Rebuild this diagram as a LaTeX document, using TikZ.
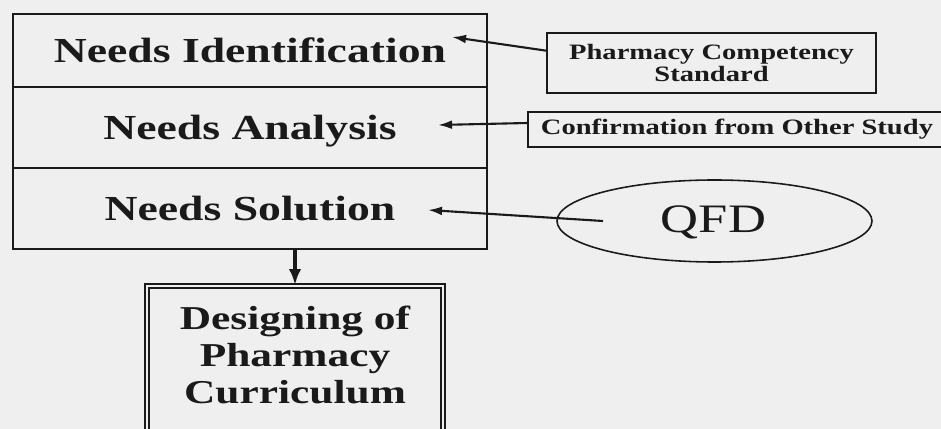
\documentclass[tikz,border=0pt]{standalone}
\usepackage{fontspec}
\setmainfont{Liberation Serif}[FakeStretch=1.3]
\usepackage{xcolor}
\usetikzlibrary{arrows.meta,calc,shapes.geometric}
\definecolor{paper-bg}{HTML}{EFEFEF}
\definecolor{ink}{HTML}{1A1A1A}

\begin{document}
\begin{tikzpicture}[every node/.style={text=ink},
    stage/.style={draw=ink, line width=0.9pt, minimum width=9.48cm, minimum height=1.62cm,
      font=\fontsize{20}{22}\selectfont\bfseries, text height=13.5pt, text depth=0pt},
    source/.style={draw=ink, line width=0.9pt, font=\fontsize{12.5}{13}\selectfont\bfseries,
      align=center},
    feed/.style={-{Latex[length=8pt,width=5pt]}, line width=1.2pt, color=ink}]
  \useasboundingbox (0, 0) rectangle (18.82, -8.58);
  \clip (0, 0) rectangle (18.82, -8.58);
  \fill[paper-bg] (0, 0) rectangle (18.82, -8.58);

  % needs stack
  \node[stage, minimum height=1.46cm] (ident) at (5.0, -1.01) {Needs Identification};
  \node[stage] (analysis) at (5.0, -2.55) {Needs Analysis};
  \node[stage] (solution) at (5.0, -4.17) {Needs Solution};
  \coordinate (identin) at (9.04, -0.74);
  \coordinate (analysisin) at (8.76, -2.50);
  \coordinate (solutionin) at (8.56, -4.20);

  % inputs on the right
  \node[source, minimum width=6.58cm, minimum height=1.2cm] (standard) at (14.23, -1.26)
    {Pharmacy Competency\\Standard};
  \node[source, minimum width=8.36cm, minimum height=0.7cm] (confirm) at (14.74, -2.59)
    {Confirmation from Other Study};
  \node[draw=ink, ellipse, line width=0.9pt, minimum width=6.3cm, minimum height=1.64cm,
    inner sep=0pt] (qfd) at (14.29, -4.42) {};
  \node[font=\fontsize{23}{25}\selectfont] (qfdtext) at (14.27, -4.44) {QFD};

  \draw[feed] ($(standard.north west)!0.3!(standard.south west)$) -- (identin);
  \draw[feed] ([yshift=0.13cm]confirm.west) -- (analysisin);
  \draw[feed] ([xshift=-2.23cm]qfd.center) -- (solutionin);

  % outcome
  \node[draw=ink, double=paper-bg, double distance=1.3pt, line width=1.1pt,
    minimum width=5.92cm, minimum height=3.48cm] (design) at (5.9, -7.46) {};
  \node[font=\fontsize{19}{21}\selectfont\bfseries, align=center] (designtext) at (5.9, -7.1)
    {Designing of\\Pharmacy\\Curriculum};
  \draw[-{Latex[length=9pt,width=7pt]}, line width=2pt, color=ink]
    (solution.south -| design.north) -- (design.north);
\end{tikzpicture}
\end{document}
